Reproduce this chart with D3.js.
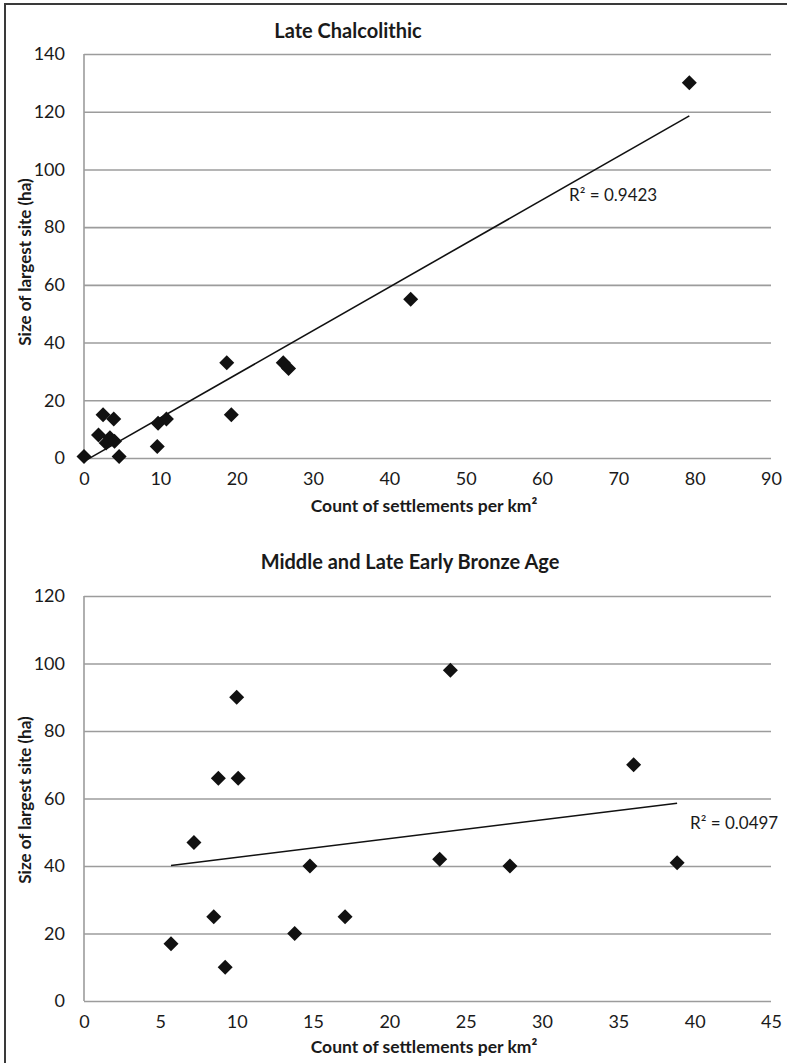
<!DOCTYPE html>
<html>
<head>
<meta charset="utf-8">
<script src="https://cdn.jsdelivr.net/npm/d3@7"></script>
<style>
  html, body { margin: 0; padding: 0; background: #fff; }
  svg { display: block; }
  text { font-family: Lato, "Open Sans", sans-serif; fill: #1a1a1a; }
</style>
</head>
<body>
<svg id="chart" width="787" height="1063"></svg>
<script>
// ---------- DATA ----------
const titles = ["Late Chalcolithic", "Middle and Late Early Bronze Age"];
const xAxisTitle = "Count of settlements per km\u00B2";
const yAxisTitle = "Size of largest site (ha)";

// Late Chalcolithic: [count per km², size of largest site (ha)]
const chalcoX = [0, 2.5, 3.9, 1.9, 3.4, 2.9, 4.0, 4.6, 9.6, 9.7, 10.8, 18.7, 19.3, 26.1, 26.8, 42.8, 79.3];
const chalcoY = [0.5, 15, 13.5, 8, 7, 5.2, 5.8, 0.5, 4, 12, 13.5, 33, 15, 33, 31, 55, 130];
const chalcoR2 = "R\u00B2 = 0.9423";
const chalcoXTicks = [0, 10, 20, 30, 40, 50, 60, 70, 80, 90];
const chalcoYTicks = [0, 20, 40, 60, 80, 100, 120, 140];

// Middle and Late Early Bronze Age
const ebaX = [5.7, 7.2, 8.5, 8.8, 9.25, 10, 10.1, 13.8, 14.8, 17.1, 23.3, 24, 27.9, 36, 38.85];
const ebaY = [17, 47, 25, 66, 10, 90, 66, 20, 40, 25, 42, 98, 40, 70, 41];
const ebaR2 = "R\u00B2 = 0.0497";
const ebaXTicks = [0, 5, 10, 15, 20, 25, 30, 35, 40, 45];
const ebaYTicks = [0, 20, 40, 60, 80, 100, 120];

// ---------- DRAW ----------
const svg = d3.select("#chart");

// outer frame (top and left edges visible)
svg.append("line").attr("x1", 4).attr("x2", 787).attr("y1", 4).attr("y2", 4)
  .attr("stroke", "#3a3a3a").attr("stroke-width", 2);
svg.append("line").attr("x1", 5).attr("x2", 5).attr("y1", 4).attr("y2", 1063)
  .attr("stroke", "#3a3a3a").attr("stroke-width", 2);

function linreg(xs, ys) {
  const n = xs.length;
  const mx = d3.mean(xs), my = d3.mean(ys);
  let sxy = 0, sxx = 0;
  for (let i = 0; i < n; i++) { sxy += (xs[i] - mx) * (ys[i] - my); sxx += (xs[i] - mx) ** 2; }
  const b = sxy / sxx;
  return { b, a: my - b * mx };
}

const diamond = "M0,-7.5L7.5,0L0,7.5L-7.5,0Z";

function drawPanel(cfg) {
  const g = svg.append("g");
  const x = d3.scaleLinear().domain(d3.extent(cfg.xTicks)).range([cfg.left, cfg.right]);
  const y = d3.scaleLinear().domain(d3.extent(cfg.yTicks)).range([cfg.bottom, cfg.top]);

  // gridlines via axis
  const yGrid = g.append("g").attr("transform", `translate(${cfg.left},0)`)
    .call(d3.axisRight(y).tickValues(cfg.yTicks).tickSize(cfg.right - cfg.left).tickFormat(""));
  yGrid.select(".domain").remove();
  yGrid.selectAll(".tick line").attr("stroke", "#9c9c9c").attr("stroke-width", 1.6);

  // y axis line
  g.append("line").attr("x1", cfg.left).attr("x2", cfg.left)
    .attr("y1", cfg.top).attr("y2", cfg.bottom)
    .attr("stroke", "#9c9c9c").attr("stroke-width", 1.6);

  // y tick labels
  const yAx = g.append("g").attr("transform", `translate(${cfg.left},0)`)
    .call(d3.axisLeft(y).tickValues(cfg.yTicks).tickSize(0).tickPadding(19));
  yAx.select(".domain").remove();
  yAx.selectAll("text").attr("font-size", 18).attr("font-family", "Lato").attr("fill", "#1a1a1a");

  // x tick labels
  const xAx = g.append("g").attr("transform", `translate(0,${cfg.bottom})`)
    .call(d3.axisBottom(x).tickValues(cfg.xTicks).tickSize(0).tickPadding(14));
  xAx.select(".domain").remove();
  xAx.selectAll("text").attr("font-size", 18).attr("font-family", "Lato").attr("fill", "#1a1a1a");

  // trendline
  const { a, b } = linreg(cfg.xs, cfg.ys);
  const [x0, x1] = d3.extent(cfg.xs);
  g.append("line")
    .attr("x1", x(x0)).attr("y1", y(a + b * x0))
    .attr("x2", x(x1)).attr("y2", y(a + b * x1))
    .attr("stroke", "#111").attr("stroke-width", 1.6);

  // points
  g.selectAll("path.pt").data(cfg.xs.map((v, i) => [v, cfg.ys[i]])).join("path")
    .attr("class", "pt")
    .attr("d", diamond)
    .attr("transform", d => `translate(${x(d[0])},${y(d[1])})`)
    .attr("fill", "#111");

  // title
  g.append("text").attr("x", cfg.titleX).attr("y", cfg.titleY)
    .attr("text-anchor", "middle").attr("dominant-baseline", "central")
    .attr("font-size", 20).attr("font-weight", "bold").text(cfg.title);

  // x axis title
  g.append("text").attr("x", cfg.xTitleX).attr("y", cfg.xTitleY)
    .attr("text-anchor", "middle").attr("dominant-baseline", "central")
    .attr("font-size", 17.5).attr("font-weight", "bold").text(xAxisTitle);

  // y axis title
  g.append("text").attr("transform", `translate(24,${cfg.yTitleY}) rotate(-90)`)
    .attr("text-anchor", "middle").attr("dominant-baseline", "central")
    .attr("font-size", 17).attr("font-weight", "bold").text(yAxisTitle);

  // R² label
  g.append("text").attr("x", cfg.r2X).attr("y", cfg.r2Y)
    .attr("dominant-baseline", "central")
    .attr("font-size", 17).text(cfg.r2);
}

drawPanel({
  xs: chalcoX, ys: chalcoY, xTicks: chalcoXTicks, yTicks: chalcoYTicks,
  left: 84, right: 771, top: 54, bottom: 458,
  title: titles[0], titleX: 348, titleY: 30,
  xTitleX: 424, xTitleY: 505, yTitleY: 262,
  r2: chalcoR2, r2X: 569, r2Y: 194
});

drawPanel({
  xs: ebaX, ys: ebaY, xTicks: ebaXTicks, yTicks: ebaYTicks,
  left: 84, right: 771, top: 596, bottom: 1001,
  title: titles[1], titleX: 410, titleY: 561,
  xTitleX: 424, xTitleY: 1046, yTitleY: 800,
  r2: ebaR2, r2X: 690, r2Y: 822
});
</script>
</body>
</html>
